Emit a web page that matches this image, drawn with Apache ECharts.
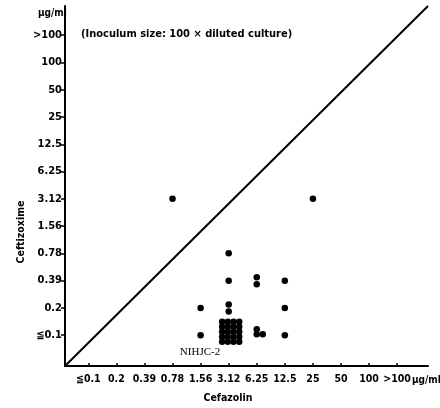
<!DOCTYPE html>
<html>
<head>
<meta charset="utf-8">
<script src="https://cdn.jsdelivr.net/npm/echarts@6/dist/echarts.min.js"></script>
<style>html,body{margin:0;padding:0;background:#fff}#c{width:440px;height:408px}</style>
</head>
<body>
<div id="c"></div>
<script>
// MIC tick labels (µg/ml)
const xLabels = ['≦0.1','0.2','0.39','0.78','1.56','3.12','6.25','12.5','25','50','100','>100'];
const yLabels = ['≦0.1','0.2','0.39','0.78','1.56','3.12','6.25','12.5','25','50','100','>100'];
// Each group: Cefazolin MIC, Ceftizoxime MIC, number of strains
const cefazolin   = ['0.78','25','3.12','3.12','6.25','12.5','1.56','3.12','12.5','1.56','3.12','6.25','12.5'];
const ceftizoxime = ['3.12','3.12','0.78','0.39','0.39','0.39','0.2','0.2','0.2','≦0.1','≦0.1','≦0.1','≦0.1'];
const strains     = [1,1,1,1,2,1,1,2,1,1,20,3,1];

function offsets(n){
  if(n===1) return [[0,0]];
  if(n===2) return [[0,-3.5],[0,3.5]];
  if(n===3) return [[0,-6],[0,-1],[6,-1]];
  const out=[]; const cols=4; const rows=Math.ceil(n/cols);
  for(let r=0;r<rows;r++)for(let c=0;c<cols;c++){ if(out.length<n) out.push([2+(c-1.5)*5.7,-3.5+(r-(rows-1)/2)*5]); }
  return out;
}
const pts=[];
cefazolin.forEach((xc,i)=>{
  const xi=xLabels.indexOf(xc)+1, yi=yLabels.indexOf(ceftizoxime[i])+1;
  offsets(strains[i]).forEach(o=>pts.push({value:[xi,yi],symbolOffset:o}));
});
const font='DejaVu Sans Condensed';
const idx=xLabels.map((_,i)=>i+1);
const chart=echarts.init(document.getElementById('c'));
chart.setOption({
  animation:false,
  backgroundColor:'#fff',
  grid:{left:65,top:6,width:363,height:360},
  xAxis:{type:'value',min:0.17,max:13.1,splitLine:{show:false},
    axisLine:{onZero:false,lineStyle:{color:'#000',width:2}},
    axisTick:{inside:true,length:3,lineStyle:{color:'#000',width:1.5},customValues:idx},
    axisLabel:{customValues:idx,formatter:v=>xLabels[Math.round(v)-1]||'',color:'#000',fontFamily:font,fontWeight:'bold',fontSize:10.5,margin:8}},
  yAxis:{type:'value',min:-0.13,max:13.07,splitLine:{show:false},
    axisLine:{onZero:false,lineStyle:{color:'#000',width:2}},
    axisTick:{length:4,lineStyle:{color:'#000',width:1.5},customValues:idx},
    axisLabel:{customValues:idx,formatter:v=>yLabels[Math.round(v)-1]||'',color:'#000',fontFamily:font,fontWeight:'bold',fontSize:11,margin:3}},
  series:[
    {type:'line',data:[[0.17,-0.13],[13.1,13.07]],symbol:'none',lineStyle:{color:'#000',width:2},silent:true},
    {type:'scatter',data:pts,symbol:'circle',symbolSize:6.5,itemStyle:{color:'#000',opacity:1}}
  ],
  graphic:[
    {type:'text',left:38,top:8,style:{text:'μg/ml',font:'bold 10px "'+font+'"',fill:'#000'}},
    {type:'text',left:81,top:29,style:{text:'(Inoculum size: 100 × diluted culture)',font:'bold 11px "'+font+'"',fill:'#000'}},
    {type:'text',x:21,y:232,rotation:Math.PI/2,style:{text:'Ceftizoxime',font:'bold 10.5px "'+font+'"',fill:'#000',align:'center',verticalAlign:'middle'}},
    {type:'text',x:228,y:398,style:{text:'Cefazolin',font:'bold 10.5px "'+font+'"',fill:'#000',align:'center',verticalAlign:'middle'}},
    {type:'text',x:412,y:380,style:{text:'μg/ml',font:'bold 10px "'+font+'"',fill:'#000',align:'left',verticalAlign:'middle'}},
    {type:'text',x:200,y:352,style:{text:'NIHJC-2',font:'11px "Liberation Serif"',fill:'#000',align:'center',verticalAlign:'middle'}}
  ]
});
</script>
</body>
</html>
